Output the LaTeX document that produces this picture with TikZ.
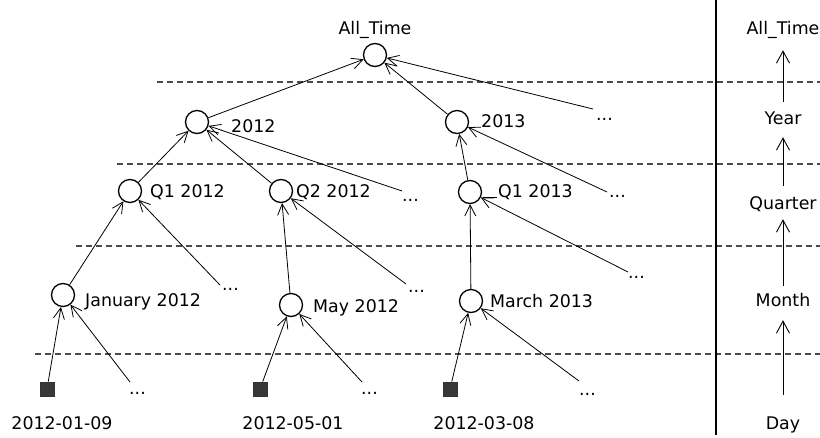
\documentclass[tikz,border=0pt]{standalone}
\usepackage{fontspec}
\setmainfont{DejaVu Sans}
\usetikzlibrary{arrows.meta}
\begin{document}
\begin{tikzpicture}[x=1pt,y=-1pt,
  every node/.style={font=\fontsize{17.4}{20}\selectfont},
  member/.style={circle,draw,line width=1.3pt,minimum size=23pt,inner sep=0pt},
  leaf/.style={rectangle,draw=black!80,fill=black!78,line width=0.8pt,minimum size=14pt,inner sep=0pt},
  lbl/.style={anchor=base west,inner sep=0pt},
  dots/.style={anchor=base west,inner sep=0pt},
  datelbl/.style={anchor=base,inner sep=0pt},
  levellbl/.style={anchor=base,inner sep=0pt,text height=13pt,text depth=4pt},
  rollup/.style={-{Straight Barb[length=11pt,width=11pt]},line width=0.8pt},
  levelarrow/.style={-{Straight Barb[length=12pt,width=13pt]},line width=0.9pt},
  levelsep/.style={dash pattern=on 6pt off 4pt,draw=black!70,line width=1.1pt},
  divider/.style={line width=1.3pt}]

\useasboundingbox (0,0) rectangle (820,437);

% level separators
\draw[levelsep] (157,82) -- (820,82);
\draw[levelsep] (117,164) -- (820,164);
\draw[levelsep] (76,246) -- (820,246);
\draw[levelsep] (35,354) -- (820,354);

% hierarchy members
\node[member] (at)   at (375,55)  {};
\node[member] (y12)  at (197,122) {};
\node[member] (y13)  at (457,122) {};
\node[member] (q112) at (130,191) {};
\node[member] (q212) at (281,191) {};
\node[member] (q113) at (470,192) {};
\node[member] (m1)   at (63,295)  {};
\node[member] (m5)   at (291,305) {};
\node[member] (m3)   at (471,301) {};
\node[leaf] (d1) at (47,389)  {};
\node[leaf] (d5) at (260,389) {};
\node[leaf] (d3) at (450,389) {};

% member labels
\node[anchor=base,inner sep=0pt] (lat) at (375,34) {All\_Time};
\node[lbl] (ly12)  at (231,132) {2012};
\node[lbl] (ly13)  at (481,127) {2013};
\node[lbl] (lq112) at (150,197.5) {Q1 2012};
\node[lbl] (lq212) at (296,197.5) {Q2 2012};
\node[lbl] (lq113) at (498,197) {Q1 2013};
\node[lbl] (lm1)   at (85,306) {January 2012};
\node[lbl] (lm5)   at (313,312) {May 2012};
\node[lbl] (lm3)   at (490,307) {March 2013};
\draw[line width=0.9pt] ([xshift=-15pt]lq113.base west) -- ([xshift=-1pt]lq113.base west);

\node[datelbl] (ld1) at (62,429)  {2012-01-09};
\node[datelbl] (ld5) at (293,429) {2012-05-01};
\node[datelbl] (ld3) at (484,429) {2012-03-08};

% open ends of the hierarchy
\coordinate (e0) at (593,109);
\coordinate (e12) at (402,191);
\coordinate (e13) at (607,192);
\coordinate (eq112) at (220,285);
\coordinate (eq212) at (406,284);
\coordinate (eq113) at (628,272);
\coordinate (em1) at (130,382);
\coordinate (em5) at (362,382);
\coordinate (em3) at (579,381);
\node[dots] (x0)    at (596,120)   {...};
\node[dots] (x12)   at (402,201.5) {...};
\node[dots] (x13)   at (609,197.5) {...};
\node[dots] (xq112) at (222,290.5) {...};
\node[dots] (xq212) at (408,292.5) {...};
\node[dots] (xq113) at (628,278.5) {...};
\node[dots] (xm1)   at (129,394.5) {...};
\node[dots] (xm5)   at (361,394.5) {...};
\node[dots] (xm3)   at (579,395.5) {...};

% roll-up edges
\draw[rollup] (y12) -- (at);
\draw[rollup] (y13) -- (at);
\draw[rollup] (e0) -- (at);
\draw[rollup] (q112) -- (y12);
\draw[rollup] (q212) -- (y12);
\draw[rollup] (e12) -- (y12);
\draw[rollup] (q113) -- (y13);
\draw[rollup] (e13) -- (y13);
\draw[rollup] (m1) -- (q112);
\draw[rollup] (eq112) -- (q112);
\draw[rollup] (m5) -- (q212);
\draw[rollup] (eq212) -- (q212);
\draw[rollup] (m3) -- (q113);
\draw[rollup] (eq113) -- (q113);
\draw[rollup] (d1) -- (m1);
\draw[rollup] (em1) -- (m1);
\draw[rollup] (d5) -- (m5);
\draw[rollup] (em5) -- (m5);
\draw[rollup] (d3) -- (m3);
\draw[rollup] (em3) -- (m3);

% divider and level legend
\draw[divider] (716,0) -- (716,435);
\node[levellbl] (vat) at (783,34)  {All\_Time};
\node[levellbl] (vy)  at (783,124) {Year};
\node[levellbl] (vq)  at (783,209) {Quarter};
\node[levellbl] (vm)  at (783,306) {Month};
\node[levellbl] (vd)  at (783,429) {Day};
\draw[levelarrow,shorten <=9pt,shorten >=12pt] (vy.north) -- (vat.south);
\draw[levelarrow,shorten <=10pt,shorten >=9pt] (vq.north) -- (vy.south);
\draw[levelarrow,shorten <=7pt,shorten >=6pt] (vm.north) -- (vq.south);
\draw[levelarrow,shorten <=21pt,shorten >=10pt] (vd.north) -- (vm.south);
\end{tikzpicture}
\end{document}
